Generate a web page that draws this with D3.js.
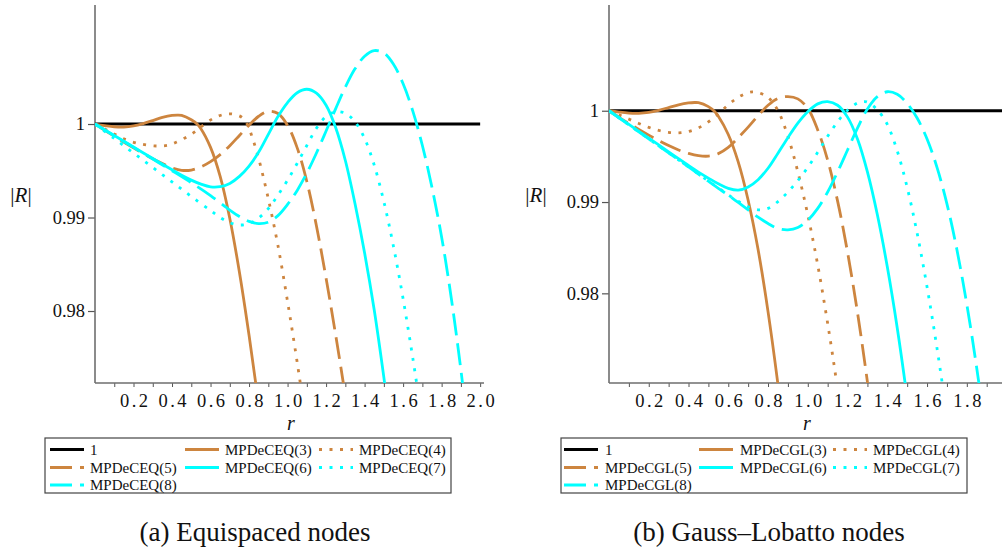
<!DOCTYPE html>
<html>
<head>
<meta charset="utf-8">
<script src="https://cdn.jsdelivr.net/npm/d3@7"></script>
<style>
  html, body { margin: 0; padding: 0; background: #fff; }
  svg { display: block; }
</style>
</head>
<body>
<svg id="fig" width="1002" height="550"></svg>
<script>
// |R(r)| of the MPDeC schemes, sampled along r: [r, |R|]
// Equispaced nodes
const eq3 = [[0,1],[0.05,0.99984],[0.1,0.99971],[0.15,0.99968],[0.2,0.9998],[0.25,1.00005],[0.3,1.00037],[0.35,1.0007],[0.4,1.00092],[0.43,1.00096],[0.45,1.00092],[0.5,1.00045],[0.53,1.0],[0.55,0.9995],[0.6,0.9975],[0.65,0.9944],[0.7,0.9899],[0.75,0.98415],[0.8,0.9774],[0.85,0.97],[0.9,0.962]];
const eq4 = [[0,1],[0.08,0.99915],[0.16,0.99833],[0.24,0.99785],[0.32,0.99765],[0.38,0.99774],[0.43,0.99813],[0.48,0.99866],[0.52,0.99918],[0.56,0.99985],[0.61,1.00055],[0.66,1.00098],[0.71,1.00108],[0.76,1.00075],[0.79,1.0],[0.82,0.99835],[0.85,0.9963],[0.9,0.992],[0.95,0.987],[1.0,0.981],[1.05,0.9745],[1.1,0.9675]];
const eq5 = [[0,1],[0.1,0.9987],[0.2,0.99745],[0.3,0.99628],[0.35,0.99577],[0.4,0.99532],[0.45,0.99505],[0.5,0.99508],[0.55,0.99542],[0.6,0.99598],[0.65,0.99673],[0.7,0.99768],[0.75,0.99878],[0.8,0.99988],[0.85,1.00083],[0.9,1.00135],[0.95,1.00112],[1.0,0.99985],[1.05,0.99745],[1.1,0.99385],[1.15,0.9891],[1.2,0.9835],[1.25,0.9774],[1.3,0.9709],[1.35,0.964]];
const eq6 = [[0,1],[0.1,0.99877],[0.2,0.99754],[0.3,0.99631],[0.4,0.9951],[0.45,0.99452],[0.5,0.994],[0.55,0.99357],[0.6,0.99328],[0.65,0.9933],[0.7,0.99365],[0.75,0.9944],[0.8,0.9955],[0.85,0.997],[0.9,0.9989],[0.95,1.0008],[1.0,1.0023],[1.05,1.00335],[1.1,1.00372],[1.15,1.0033],[1.2,1.002],[1.25,0.9996],[1.3,0.9961],[1.35,0.9915],[1.4,0.9862],[1.45,0.9801],[1.5,0.9729],[1.55,0.965]];
const eq7 = [[0,1],[0.1,0.99845],[0.2,0.9969],[0.3,0.99535],[0.4,0.9938],[0.5,0.99225],[0.6,0.99075],[0.65,0.99],[0.7,0.98945],[0.75,0.9892],[0.8,0.98935],[0.85,0.98995],[0.9,0.99095],[0.95,0.9924],[1.0,0.994],[1.05,0.9958],[1.1,0.9977],[1.15,0.99955],[1.2,1.0008],[1.25,1.0013],[1.3,1.00115],[1.35,1.00025],[1.4,0.99845],[1.45,0.9956],[1.5,0.9917],[1.55,0.9869],[1.6,0.9813],[1.65,0.975],[1.7,0.9682]];
const eq8 = [[0,1],[0.1,0.99875],[0.2,0.9975],[0.3,0.99625],[0.4,0.995],[0.5,0.99372],[0.6,0.99235],[0.7,0.9908],[0.75,0.9901],[0.8,0.98958],[0.85,0.98935],[0.9,0.9895],[0.95,0.9902],[1.0,0.9914],[1.05,0.9929],[1.1,0.99475],[1.15,0.9969],[1.2,0.99925],[1.25,1.00165],[1.3,1.00395],[1.35,1.0059],[1.4,1.00725],[1.45,1.00785],[1.5,1.0076],[1.55,1.0064],[1.6,1.0043],[1.65,1.0014],[1.7,0.9977],[1.75,0.9932],[1.8,0.9879],[1.85,0.9814],[1.9,0.9737],[1.95,0.965]];

// Gauss–Lobatto nodes
const gl3 = [[0,1],[0.05,0.99985],[0.1,0.99974],[0.15,0.99972],[0.2,0.99982],[0.25,1.00005],[0.3,1.00035],[0.35,1.00065],[0.4,1.00085],[0.43,1.0009],[0.45,1.00088],[0.5,1.00045],[0.53,0.99995],[0.55,0.9994],[0.6,0.9974],[0.65,0.9944],[0.7,0.9902],[0.75,0.9848],[0.8,0.978],[0.85,0.97],[0.9,0.961]];
const gl4 = [[0,1],[0.05,0.99955],[0.1,0.99908],[0.15,0.9986],[0.2,0.99818],[0.25,0.99785],[0.3,0.99762],[0.35,0.99757],[0.4,0.99772],[0.45,0.99812],[0.5,0.99878],[0.55,0.99965],[0.6,1.00065],[0.65,1.00148],[0.7,1.00198],[0.72,1.00207],[0.75,1.002],[0.8,1.00145],[0.85,1.0],[0.9,0.9972],[0.95,0.9933],[1.0,0.9886],[1.05,0.9831],[1.1,0.9767],[1.15,0.9695],[1.2,0.9615]];
const gl5 = [[0,1],[0.05,0.99928],[0.1,0.9986],[0.15,0.99795],[0.2,0.99733],[0.25,0.99673],[0.3,0.99618],[0.35,0.9957],[0.4,0.99533],[0.45,0.99508],[0.5,0.99503],[0.55,0.9953],[0.6,0.99598],[0.65,0.99705],[0.7,0.9982],[0.75,0.99945],[0.8,1.0006],[0.85,1.00135],[0.9,1.00155],[0.95,1.0013],[1.0,1.00025],[1.05,0.9979],[1.1,0.9946],[1.15,0.9901],[1.2,0.9845],[1.25,0.9779],[1.3,0.9703],[1.35,0.962]];
const gl6 = [[0,1],[0.1,0.9985],[0.2,0.997],[0.3,0.9955],[0.4,0.994],[0.45,0.99328],[0.5,0.99262],[0.55,0.992],[0.6,0.9915],[0.65,0.9913],[0.7,0.99165],[0.75,0.99245],[0.8,0.9937],[0.85,0.99535],[0.9,0.99705],[0.95,0.99865],[1.0,0.9999],[1.05,1.00075],[1.1,1.001],[1.15,1.0006],[1.2,0.9993],[1.25,0.9969],[1.3,0.9933],[1.35,0.9886],[1.4,0.9829],[1.45,0.9762],[1.5,0.9685],[1.55,0.96]];
const gl7 = [[0,1],[0.1,0.99846],[0.2,0.99692],[0.3,0.99538],[0.4,0.99384],[0.5,0.9923],[0.55,0.99155],[0.6,0.99078],[0.65,0.99008],[0.7,0.98948],[0.75,0.98915],[0.8,0.9893],[0.85,0.99005],[0.9,0.9911],[0.95,0.99235],[1.0,0.9938],[1.05,0.99545],[1.1,0.9972],[1.15,0.9988],[1.2,1.00005],[1.25,1.00085],[1.28,1.001],[1.3,1.00095],[1.35,1.0001],[1.4,0.9985],[1.45,0.9956],[1.5,0.9916],[1.55,0.9866],[1.6,0.9807],[1.65,0.974],[1.7,0.9666]];
const gl8 = [[0,1],[0.1,0.99846],[0.2,0.99692],[0.3,0.99538],[0.4,0.99384],[0.5,0.99228],[0.55,0.9915],[0.6,0.99075],[0.65,0.98995],[0.7,0.98915],[0.75,0.98835],[0.8,0.98765],[0.85,0.9871],[0.9,0.98695],[0.95,0.9872],[1.0,0.988],[1.05,0.9893],[1.1,0.9911],[1.15,0.9933],[1.2,0.9957],[1.25,0.9981],[1.3,1.0002],[1.35,1.00155],[1.4,1.00208],[1.45,1.0018],[1.5,1.0008],[1.55,0.9992],[1.6,0.9969],[1.65,0.9938],[1.7,0.9898],[1.75,0.9848],[1.8,0.9788],[1.85,0.9718],[1.9,0.964]];

const xTickValues = [0.2, 0.4, 0.6, 0.8, 1.0, 1.2, 1.4, 1.6, 1.8, 2.0];
const yTickValues = [0.98, 0.99, 1];
const orders = [3, 4, 5, 6, 7, 8];

const ORANGE = "#cd853f";
const CYAN = "#00ffff";
const styleOf = {
  3: {color: ORANGE, dash: null},
  4: {color: ORANGE, dash: "3,7.5"},
  5: {color: ORANGE, dash: "22,8"},
  6: {color: CYAN, dash: null},
  7: {color: CYAN, dash: "3,7.5"},
  8: {color: CYAN, dash: "22,8"}
};

const SERIF = "'Liberation Serif', serif";

const svg = d3.select("#fig");

const panels = [
  {
    id: "eq", tag: "MPDeCEQ", caption: "(a) Equispaced nodes",
    series: [eq3, eq4, eq5, eq6, eq7, eq8],
    xDomain: [0, 2.02], xRange: [95, 484], xEnd: 2.0,
    yDomain: [0.9723, 1.01273], yRange: [383, 5],
    yLabelX: 21, rLabelX: 291, capX: 255,
    legend: {x: 45, y: 438, w: 406, cols: [[50, 90], [185, 225], [319, 359]]}
  },
  {
    id: "gl", tag: "MPDeCGL", caption: "(b) Gauss–Lobatto nodes",
    series: [gl3, gl4, gl5, gl6, gl7, gl8],
    xDomain: [0, 1.977], xRange: [609, 1002], xEnd: 1.977,
    yDomain: [0.97018, 1.01158], yRange: [383, 5],
    yLabelX: 536, rLabelX: 807, capX: 769,
    legend: {x: 561, y: 438, w: 406, cols: [[564, 605], [699, 740], [833, 873]]}
  }
];

panels.forEach(p => {
  const x = d3.scaleLinear().domain(p.xDomain).range(p.xRange);
  const y = d3.scaleLinear().domain(p.yDomain).range(p.yRange);
  const g = svg.append("g");

  g.append("clipPath").attr("id", "clip-" + p.id)
    .append("rect")
    .attr("x", p.xRange[0]).attr("y", p.yRange[1])
    .attr("width", p.xRange[1] - p.xRange[0])
    .attr("height", p.yRange[0] - p.yRange[1]);

  // x axis: minor ticks every 0.1, labels every 0.2
  const labelled = new Set(xTickValues.map(v => Math.round(v * 10)));
  const minor = d3.range(1, Math.floor(p.xDomain[1] * 10 + 1e-9) + 1).map(i => i / 10);
  const xAxis = d3.axisBottom(x).tickValues(minor).tickSize(4)
    .tickFormat(d => labelled.has(Math.round(d * 10)) ? d3.format(".1f")(d) : "");
  const gx = g.append("g").attr("transform", `translate(0,${p.yRange[0]})`).call(xAxis);
  gx.attr("font-family", SERIF);
  gx.select(".domain").remove();
  gx.selectAll(".tick line").attr("stroke", "#555").attr("stroke-width", 1);
  gx.selectAll(".tick text").attr("font-family", SERIF).attr("font-size", 18.5)
    .attr("letter-spacing", "2.5px").attr("dx", 1.25)
    .attr("fill", "#111").attr("dy", "0.9em");

  const yAxis = d3.axisLeft(y).tickValues(yTickValues).tickSize(7)
    .tickFormat(d => d === 1 ? "1" : d3.format(".2f")(d));
  const gy = g.append("g").attr("transform", `translate(${p.xRange[0]},0)`).call(yAxis);
  gy.attr("font-family", SERIF);
  gy.select(".domain").remove();
  gy.selectAll(".tick line").attr("stroke", "#555").attr("stroke-width", 1.2);
  gy.selectAll(".tick text").attr("font-family", SERIF).attr("font-size", 18.5)
    .attr("fill", "#111").attr("x", -10);

  g.append("line")
    .attr("x1", p.xRange[0]).attr("x2", p.xRange[1])
    .attr("y1", p.yRange[0]).attr("y2", p.yRange[0])
    .attr("stroke", "#6e6e6e").attr("stroke-width", 1.6);
  g.append("line")
    .attr("x1", p.xRange[0]).attr("x2", p.xRange[0])
    .attr("y1", p.yRange[0]).attr("y2", p.yRange[1])
    .attr("stroke", "#6e6e6e").attr("stroke-width", 1.6);

  // curves
  const line = d3.line().x(d => x(d[0])).y(d => y(d[1]))
    .curve(d3.curveCatmullRom.alpha(0.5));
  const plot = g.append("g").attr("clip-path", `url(#clip-${p.id})`);
  plot.append("path")
    .datum([[0, 1], [p.xEnd, 1]])
    .attr("d", line).attr("fill", "none")
    .attr("stroke", "#000").attr("stroke-width", 3);
  p.series.forEach((s, i) => {
    const st = styleOf[orders[i]];
    plot.append("path").datum(s)
      .attr("d", line).attr("fill", "none")
      .attr("stroke", st.color).attr("stroke-width", 2.8)
      .attr("stroke-dasharray", st.dash);
  });

  // axis titles
  const yl = g.append("text").attr("x", p.yLabelX).attr("y", 202)
    .attr("text-anchor", "middle").attr("font-family", SERIF)
    .attr("font-size", 21).attr("fill", "#111");
  yl.append("tspan").text("|");
  yl.append("tspan").attr("font-style", "italic").text("R");
  yl.append("tspan").text("|");
  g.append("text").attr("x", p.rLabelX).attr("y", 429.5)
    .attr("text-anchor", "middle").attr("font-family", SERIF)
    .attr("font-style", "italic").attr("font-size", 20).attr("fill", "#111").text("r");

  // legend
  const L = p.legend;
  const lg = g.append("g");
  lg.append("rect").attr("x", L.x).attr("y", L.y).attr("width", L.w).attr("height", 55)
    .attr("fill", "#fff").attr("stroke", "#444").attr("stroke-width", 1.2);
  const entries = [{label: "1", color: "#000", dash: null}]
    .concat(orders.map(o => ({label: `${p.tag}(${o})`, color: styleOf[o].color, dash: styleOf[o].dash})));
  const rowsY = [449.5, 467.5, 485];
  entries.forEach((e, k) => {
    const col = L.cols[k % 3], ry = rowsY[Math.floor(k / 3)];
    lg.append("line").attr("x1", col[0]).attr("x2", col[0] + 34)
      .attr("y1", ry).attr("y2", ry)
      .attr("stroke", e.color).attr("stroke-width", 3)
      .attr("stroke-dasharray", e.dash);
    lg.append("text").attr("x", col[1]).attr("y", ry + 5)
      .attr("font-family", SERIF).attr("font-size", 15)
      .attr("fill", "#111").text(e.label);
  });

  // caption
  g.append("text").attr("x", p.capX).attr("y", 541)
    .attr("text-anchor", "middle").attr("font-family", SERIF)
    .attr("font-size", 27).attr("fill", "#111").text(p.caption);
});
</script>
</body>
</html>
